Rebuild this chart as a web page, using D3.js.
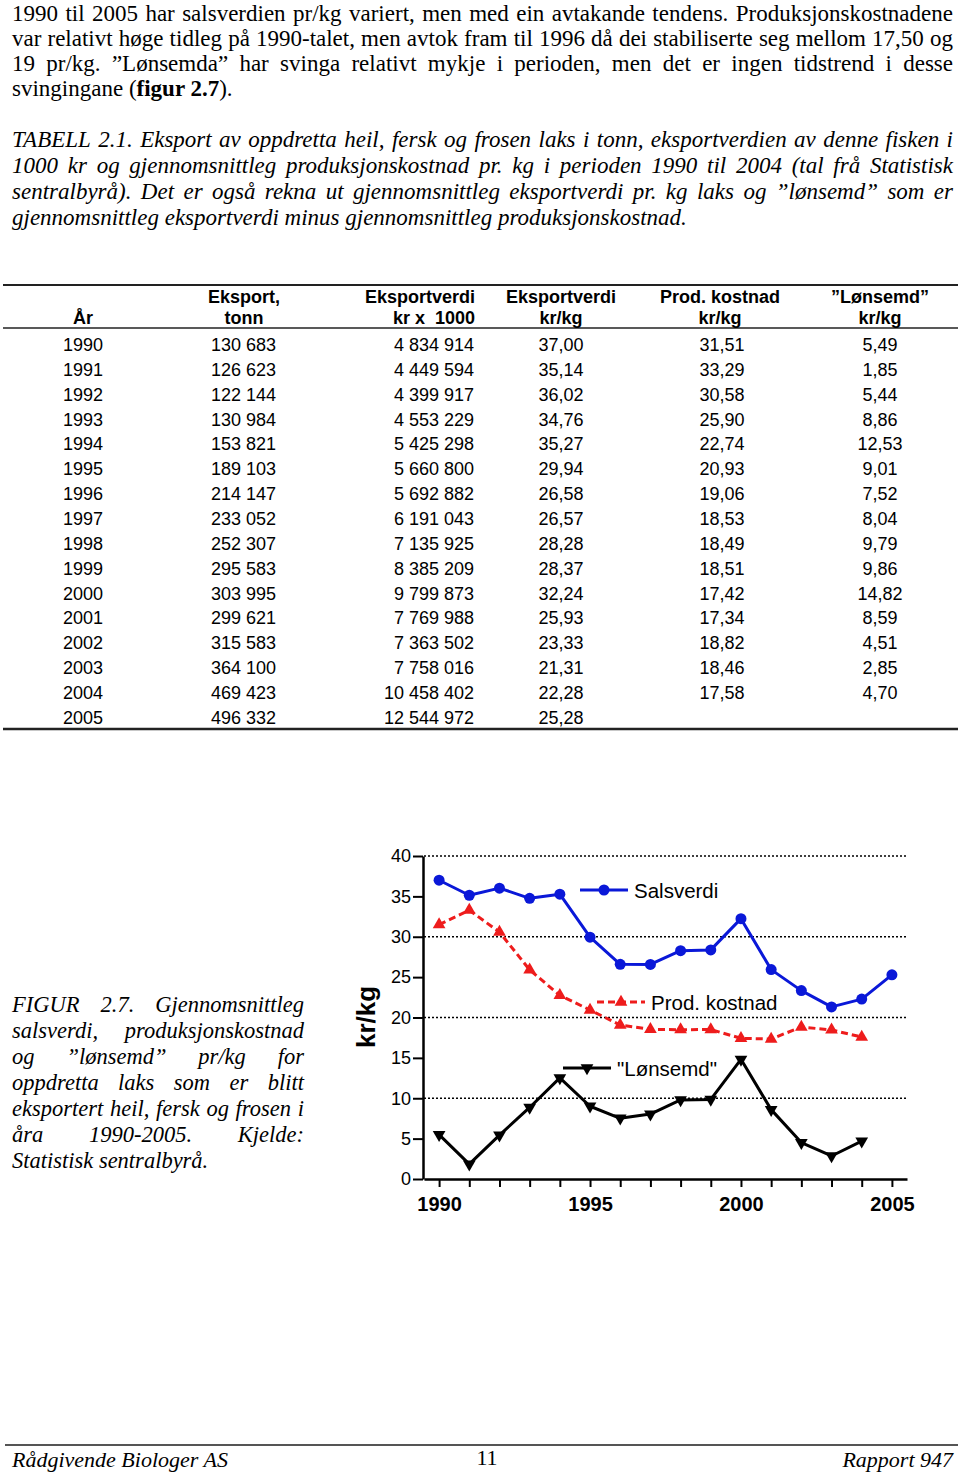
<!DOCTYPE html>
<html>
<head>
<meta charset="utf-8">
<script src="https://cdn.jsdelivr.net/npm/d3@7"></script>
<style>
  body { margin: 0; background: #fff; }
  svg { display: block; }
</style>
</head>
<body>
<script>
// ---- data read from the page ----
var years = [1990, 1991, 1992, 1993, 1994, 1995, 1996, 1997, 1998, 1999, 2000, 2001, 2002, 2003, 2004, 2005]
var eksportTonn = [130683, 126623, 122144, 130984, 153821, 189103, 214147, 233052, 252307, 295583, 303995, 299621, 315583, 364100, 469423, 496332]
var eksportVerdi = [4834914, 4449594, 4399917, 4553229, 5425298, 5660800, 5692882, 6191043, 7135925, 8385209, 9799873, 7769988, 7363502, 7758016, 10458402, 12544972]
var verdiKg = [37.00, 35.14, 36.02, 34.76, 35.27, 29.94, 26.58, 26.57, 28.28, 28.37, 32.24, 25.93, 23.33, 21.31, 22.28, 25.28]
var prodKostnad = [31.51, 33.29, 30.58, 25.90, 22.74, 20.93, 19.06, 18.53, 18.49, 18.51, 17.42, 17.34, 18.82, 18.46, 17.58, null]
var lonsemd = [5.49, 1.85, 5.44, 8.86, 12.53, 9.01, 7.52, 8.04, 9.79, 9.86, 14.82, 8.59, 4.51, 2.85, 4.70, null]

var headerTop = ["", "Eksport,", "Eksportverdi", "Eksportverdi", "Prod. kostnad", "\u201dLønsemd\u201d"]
var headerBottom = ["År", "tonn", "kr x  1000", "kr/kg", "kr/kg", "kr/kg"]

var yTicks = [0, 5, 10, 15, 20, 25, 30, 35, 40]
var gridValues = [10, 20, 30, 40]
var xTickLabels = [1990, 1995, 2000, 2005]
var seriesNames = ["Salsverdi", "Prod. kostnad", "\"Lønsemd\""]
var yLabel = "kr/kg"

var para1 = [
  "1990 til 2005 har salsverdien pr/kg variert, men med ein avtakande tendens. Produksjonskostnadene",
  "var relativt høge tidleg på 1990-talet, men avtok fram til 1996 då dei stabiliserte seg mellom 17,50 og",
  "19 pr/kg. \u201dLønsemda\u201d har svinga relativt mykje i perioden, men det er ingen tidstrend i desse"
]
var para1Last = [{t: "svingingane ("}, {t: "figur 2.7", b: true}, {t: ")."}]
var tabell = [
  "TABELL 2.1. Eksport av oppdretta heil, fersk og frosen laks i tonn, eksportverdien av denne fisken i",
  "1000 kr og gjennomsnittleg produksjonskostnad pr. kg i perioden 1990 til 2004 (tal frå Statistisk",
  "sentralbyrå). Det er også rekna ut gjennomsnittleg eksportverdi pr. kg laks og \u201dlønsemd\u201d som er"
]
var tabellLast = "gjennomsnittleg eksportverdi minus gjennomsnittleg produksjonskostnad."
var figur = [
  "FIGUR 2.7. Gjennomsnittleg",
  "salsverdi, produksjonskostnad",
  "og \u201dlønsemd\u201d pr/kg for",
  "oppdretta laks som er blitt",
  "eksportert heil, fersk og frosen i",
  "åra 1990-2005. Kjelde:"
]
var figurLast = "Statistisk sentralbyrå."
var footer = ["Rådgivende Biologer AS", "11", "Rapport 947"]

// ---- page ----
var serif = "'Liberation Serif', 'Times New Roman', serif"
var sans = "'Liberation Sans', Arial, sans-serif"

var svg = d3.select("body").append("svg")
    .attr("width", 960)
    .attr("height", 1474)

// justify one line of words between x0 and x1
function justify(g, str, x0, x1, y, size, italic){
  var words = str.split(" ")
  var line = g.append("g")
  var nodes = words.map(function(w){
    return line.append("text")
      .attr("font-family", serif)
      .attr("font-size", size)
      .attr("font-style", italic ? "italic" : "normal")
      .text(w)
  })
  var widths = nodes.map(function(n){ return n.node().getComputedTextLength() })
  var sum = d3.sum(widths), gaps = words.length - 1, W = x1 - x0
  var sx = Math.min(1, W / (sum + gaps * size * 0.22))
  var gap = (W / sx - sum) / gaps
  var cx = 0
  nodes.forEach(function(n, i){ n.attr("x", cx); cx += widths[i] + gap })
  line.attr("transform", "translate(" + x0 + "," + y + ") scale(" + sx + ",1)")
  return sx
}

function plain(g, parts, x0, y, size, italic, sx){
  var t = g.append("text")
      .attr("transform", "translate(" + x0 + "," + y + ") scale(" + sx + ",1)")
      .attr("font-family", serif)
      .attr("font-size", size)
      .attr("font-style", italic ? "italic" : "normal")
  parts.forEach(function(p){
    t.append("tspan").attr("font-weight", p.b ? "bold" : "normal").text(p.t)
  })
  return t
}

var text = svg.append("g")
var p1y = [21, 45.5, 70.5, 95.5]
var sx1 = 1
para1.forEach(function(l, i){ sx1 = justify(text, l, 12, 953, p1y[i], 23, false) })
plain(text, para1Last, 12, p1y[3], 23, false, sx1)

var sx2 = 1
tabell.forEach(function(l, i){ sx2 = justify(text, l, 12, 953, 147 + i * 26, 23, true) })
plain(text, [{t: tabellLast}], 12, 147 + 3 * 26, 23, true, sx2)

var sx3 = 1
figur.forEach(function(l, i){ sx3 = justify(text, l, 12, 304, 1012 + i * 26, 22.5, true) })
plain(text, [{t: figurLast}], 12, 1012 + 6 * 26, 22.5, true, sx3)

// ---- table ----
var nb = d3.formatLocale({decimal: ",", thousands: " ", grouping: [3], currency: ["", ""]})
var fInt = nb.format(",d")
var fDec = nb.format(".2f")

var table = svg.append("g").attr("font-family", sans).attr("fill", "#000")

table.append("line").attr("x1", 3).attr("x2", 958).attr("y1", 285).attr("y2", 285)
    .attr("stroke", "#222").attr("stroke-width", 2)
table.append("line").attr("x1", 3).attr("x2", 958).attr("y1", 328).attr("y2", 328)
    .attr("stroke", "#222").attr("stroke-width", 1.5)
table.append("line").attr("x1", 3).attr("x2", 958).attr("y1", 729).attr("y2", 729)
    .attr("stroke", "#222").attr("stroke-width", 2.5)

var headX = [83, 244, 475, 561, 720, 880]
var headAnchor = ["middle", "middle", "end", "middle", "middle", "middle"]

table.selectAll(".htop").data(headerTop).enter().append("text")
    .attr("class", "htop")
    .attr("x", function(d, i){ return headX[i] })
    .attr("y", 303)
    .attr("text-anchor", function(d, i){ return headAnchor[i] })
    .attr("font-size", 18).attr("font-weight", "bold")
    .text(function(d){ return d })

table.selectAll(".hbot").data(headerBottom).enter().append("text")
    .attr("class", "hbot")
    .attr("x", function(d, i){ return headX[i] })
    .attr("y", 324)
    .attr("text-anchor", function(d, i){ return headAnchor[i] })
    .attr("font-size", 18).attr("font-weight", "bold")
    .style("white-space", "pre")
    .text(function(d){ return d })

var cols = [
  {x: 83, a: "middle", v: function(i){ return years[i] }},
  {x: 276, a: "end", v: function(i){ return fInt(eksportTonn[i]) }},
  {x: 474, a: "end", v: function(i){ return fInt(eksportVerdi[i]) }},
  {x: 561, a: "middle", v: function(i){ return fDec(verdiKg[i]) }},
  {x: 722, a: "middle", v: function(i){ return prodKostnad[i] == null ? "" : fDec(prodKostnad[i]) }},
  {x: 880, a: "middle", v: function(i){ return lonsemd[i] == null ? "" : fDec(lonsemd[i]) }}
]

var rows = table.selectAll(".row").data(years).enter().append("g")
    .attr("class", "row")
    .attr("transform", function(d, i){ return "translate(0," + (351 + i * 24.85) + ")" })

cols.forEach(function(c){
  rows.append("text")
      .attr("x", c.x)
      .attr("text-anchor", c.a)
      .attr("font-size", 18)
      .text(function(d, i){ return c.v(i) })
})

// ---- chart ----
var x = d3.scaleLinear().domain([1989.5, 2005.5]).range([424, 907])
var y = d3.scaleLinear().domain([0, 40]).range([1179, 856])

var chart = svg.append("g").attr("font-family", sans)

chart.selectAll(".grid").data(gridValues).enter().append("line")
    .attr("class", "grid")
    .attr("x1", x.range()[0]).attr("x2", x.range()[1])
    .attr("y1", function(d){ return y(d) }).attr("y2", function(d){ return y(d) })
    .attr("stroke", "#000").attr("stroke-width", 1.5).attr("stroke-dasharray", "2,2")

var yAxis = chart.append("g")
    .attr("transform", "translate(423,0)")
    .call(d3.axisLeft(y).tickValues(yTicks).tickSize(10).tickSizeOuter(0).tickPadding(2))
yAxis.select(".domain").attr("stroke-width", 2.5)
yAxis.selectAll(".tick line").attr("stroke-width", 2)
yAxis.selectAll(".tick text").attr("font-size", 18).attr("font-family", sans).attr("fill", "#000")

var xAxis = chart.append("g")
    .attr("transform", "translate(0,1179)")
    .call(d3.axisBottom(x).tickValues(years).tickSize(8).tickSizeOuter(0).tickPadding(10)
      .tickFormat(function(d){ return xTickLabels.indexOf(d) >= 0 ? d : "" }))
xAxis.select(".domain").attr("stroke-width", 2.5)
xAxis.selectAll(".tick line").attr("stroke-width", 2)
xAxis.selectAll(".tick text").attr("font-size", 20).attr("font-weight", "bold")
    .attr("font-family", sans).attr("fill", "#000")

chart.append("text")
    .attr("transform", "translate(375,1017) rotate(-90)")
    .attr("text-anchor", "middle")
    .attr("font-size", 26).attr("font-weight", "bold")
    .text(yLabel)

var series = [
  {name: seriesNames[0], values: verdiKg, color: "#0a18d8", dash: null, sym: "circle", lx: 580, ly: 890},
  {name: seriesNames[1], values: prodKostnad, color: "#ee1c1c", dash: "7,4", sym: "up", lx: 597, ly: 1002},
  {name: seriesNames[2], values: lonsemd, color: "#000", dash: null, sym: "down", lx: 563, ly: 1068}
]

var line = d3.line()
    .defined(function(d){ return d != null })
    .x(function(d, i){ return x(years[i]) })
    .y(function(d){ return y(d) })

var tri = d3.symbol(d3.symbolTriangle).size(70)

function drawMarker(g, s){
  if(s.sym == "circle")
    g.append("circle").attr("r", 5.5).attr("fill", s.color)
  else
    g.append("path").attr("d", tri).attr("fill", s.color)
      .attr("transform", s.sym == "down" ? "rotate(180)" : null)
}

series.forEach(function(s){
  chart.append("path")
      .datum(s.values)
      .attr("fill", "none")
      .attr("stroke", s.color)
      .attr("stroke-width", 3)
      .attr("stroke-dasharray", s.dash)
      .attr("stroke-linejoin", "round")
      .attr("d", line)

  var pts = chart.append("g")
  s.values.forEach(function(v, i){
    if(v == null) return
    var m = pts.append("g").attr("transform", "translate(" + x(years[i]) + "," + y(v) + ")")
    drawMarker(m, s)
  })
})

// legend
var legW = 48
series.forEach(function(s){
  var lg = chart.append("g").attr("transform", "translate(" + s.lx + "," + s.ly + ")")
  lg.append("line").attr("x1", 0).attr("x2", legW)
      .attr("stroke", s.color).attr("stroke-width", 3).attr("stroke-dasharray", s.dash)
  var m = lg.append("g").attr("transform", "translate(" + (legW / 2) + ",0)")
  drawMarker(m, s)
  lg.append("text").attr("x", legW + 6).attr("y", 8)
      .attr("font-size", 20.5).text(s.name)
})

// ---- footer ----
svg.append("line").attr("x1", 5).attr("x2", 958).attr("y1", 1445).attr("y2", 1445)
    .attr("stroke", "#555").attr("stroke-width", 2)
var ft = svg.append("g").attr("font-family", serif).attr("font-size", 22)
ft.append("text").attr("x", 12).attr("y", 1467).attr("font-style", "italic").text(footer[0])
ft.append("text").attr("x", 487).attr("y", 1465).attr("text-anchor", "middle").text(footer[1])
ft.append("text").attr("x", 953).attr("y", 1467).attr("text-anchor", "end").attr("font-style", "italic").text(footer[2])
</script>
</body>
</html>
